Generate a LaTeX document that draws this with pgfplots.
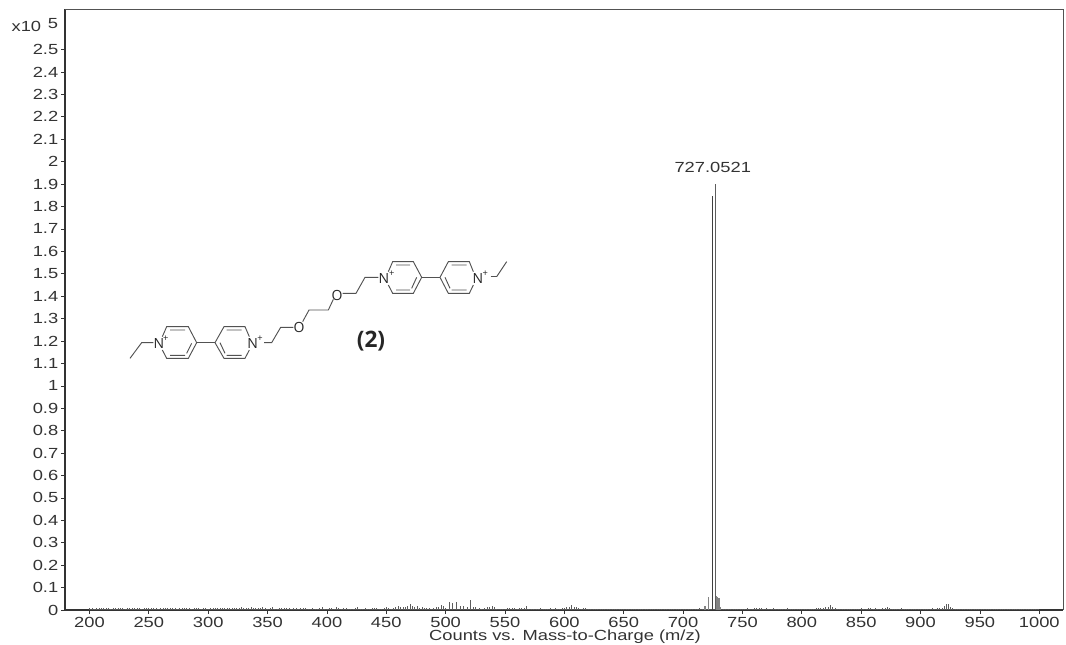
\documentclass[border=0pt]{standalone}
\usepackage{pgfplots}
\pgfplotsset{compat=1.18}
\usepackage{fontspec}
\setmainfont[FakeStretch=1.25]{Liberation Sans}
\newfontfamily\molfont{Open Sans}
\definecolor{ink}{HTML}{333333}
\definecolor{trace}{HTML}{404040}
\begin{document}
\begin{tikzpicture}
\useasboundingbox (0,0) rectangle (799.5pt,483pt);
\begin{axis}[
  at={(48.75pt,25.5pt)}, anchor=south west, scale only axis,
  width=748.5pt, height=450.75pt,
  xmin=179.4, xmax=1020, ymin=0, ymax=2.681,
  xtick={200,250,...,1000},
  ytick={0,0.1,...,2.5},
  axis x line*=bottom, axis y line*=left,
  tick align=outside, tick pos=left,
  major tick length=3pt,
  axis line style={ink, line width=0.8pt},
  tick style={ink, line width=0.5pt},
  tick label style={font=\fontsize{11}{12}\selectfont, text=ink},
  /pgf/number format/assume math mode=true,
  /pgf/number format/fixed, /pgf/number format/precision=1,
  /pgf/number format/1000 sep={},
  xticklabel style={inner ysep=0pt, yshift=-2.1pt},
  yticklabel style={xshift=1.5pt},
  xlabel={Counts vs. Mass-to-Charge (m/z)},
  xlabel style={at={(rel axis cs:0.501,0)}, anchor=center, inner ysep=0pt, yshift=-20.4pt, font=\fontsize{11}{12}\selectfont, text=ink},
  clip=false,
]
% baseline
\addplot[trace!90, line width=0.9pt] coordinates {(200,0.004)(1000,0.004)};
% low-level noise
\addplot[ycomb, trace!85, line width=0.5pt, no markers] coordinates {
(200,.007)(202,.009)(204,.006)(206,.009)(208,.008)(210,.010)(212,.007)(214,.009)(216,.008)(218,.006)(220,.009)(222,.010)(224,.007)(226,.009)(228,.008)(230,.006)(232,.009)(234,.008)(236,.010)(238,.007)(240,.009)(242,.008)(244,.006)(246,.010)(248,.009)(250,.007)(252,.008)(254,.010)(256,.009)(258,.006)(260,.009)(262,.008)(264,.010)(266,.007)(268,.009)(270,.008)(272,.009)(274,.006)(276,.008)(278,.010)(280,.007)(282,.009)(284,.008)(286,.006)(288,.009)(290,.010)(292,.008)(294,.005)(296,.007)(298,.009)(300,.006)(302,.010)(304,.011)(306,.009)(308,.010)(310,.011)(312,.008)(314,.010)(316,.009)(318,.011)(320,.010)(322,.008)(324,.011)(326,.009)(328,.012)(330,.010)(332,.011)(334,.009)(336,.012)(338,.008)(340,.010)(342,.007)(344,.011)(346,.013)(348,.009)(350,.006)(352,.010)(354,.012)(356,.005)(358,.004)(360,.010)(362,.009)(364,.011)(366,.008)(368,.010)(370,.006)(372,.009)(374,.010)(376,.005)(378,.008)(380,.007)(382,.010)(384,.006)(386,.005)(388,.008)(390,.006)(392,.004)(394,.009)(396,.012)(398,.005)(400,.004)(402,.007)(404,.010)(406,.006)(408,.012)(410,.008)(412,.005)(414,.009)(416,.007)(418,.005)(420,.006)(422,.004)(424,.008)(426,.012)(428,.006)(430,.005)(432,.009)(434,.006)(436,.004)(438,.007)(440,.009)(442,.010)(444,.006)(446,.004)(448,.009)(450,.012)(452,.008)(454,.005)
(456,.008)(458,.012)(460,.017)(462,.014)(464,.012)(466,.013)(468,.016)(470,.026)(472,.018)(474,.012)(476,.016)(478,.010)(480,.012)(482,.008)(484,.010)(486,.009)(488,.006)(490,.010)(492,.012)(494,.015)(496,.024)(498,.018)(500,.010)(503,.036)(506,.032)(509,.034)(512,.018)(515,.016)(518,.014)(521,.044)(523,.014)(525,.012)(528,.008)(530,.006)(533,.010)(535,.012)(537,.014)(539,.016)(541,.012)(543,.006)(546,.005)(548,.006)(550,.005)(552,.009)(554,.011)(556,.008)(558,.007)(560,.006)(562,.008)(564,.009)(566,.008)(568,.017)(570,.006)(572,.005)(574,.004)(576,.006)(578,.005)(580,.007)(582,.005)(584,.004)(586,.005)(588,.008)(590,.006)(592,.007)(594,.005)(596,.004)(598,.007)(600,.010)(602,.012)(604,.014)(606,.021)(608,.012)(610,.013)(612,.007)(614,.006)(616,.010)(618,.011)(620,.005)(622,.004)(624,.006)(626,.005)(628,.004)(630,.006)(632,.003)(634,.005)(636,.004)(638,.006)(640,.004)(642,.005)(644,.003)(646,.005)(648,.004)(650,.006)(652,.003)(654,.005)(656,.004)(658,.003)(660,.005)(662,.004)(664,.006)(666,.003)(668,.004)(670,.005)(672,.004)(674,.003)(676,.006)(678,.004)(680,.003)(682,.005)(684,.004)(686,.006)(688,.003)(690,.005)(692,.004)(694,.006)(696,.003)(698,.005)(700,.004)(702,.006)(704,.005)(706,.004)(708,.005)(710,.006)(712,.005)(714,.007)(716,.006)
(734,.006)(736,.004)(738,.005)(740,.004)(742,.006)(744,.005)(746,.004)(748,.006)(750,.005)(752,.004)(754,.007)(756,.006)(758,.005)(760,.008)(762,.009)(764,.007)(766,.008)(768,.006)(770,.007)(772,.005)(774,.006)(776,.008)(778,.005)(780,.006)(782,.005)(784,.004)(786,.005)(788,.007)(790,.006)(792,.004)(794,.005)(796,.006)(798,.004)(800,.005)(802,.006)(804,.004)(806,.005)(808,.006)(810,.005)(812,.007)(814,.009)(816,.011)(818,.010)(820,.012)(822,.013)(824,.021)(826,.014)(828,.008)(830,.006)(832,.005)(834,.004)(836,.006)(838,.005)(840,.003)(842,.004)(844,.005)(846,.004)(848,.006)(850,.008)(852,.006)(854,.005)(856,.007)(858,.008)(860,.006)(862,.007)(864,.005)(866,.006)(868,.008)(870,.009)(872,.013)(874,.010)(876,.006)(878,.005)(880,.006)(882,.005)(884,.007)(886,.006)(888,.005)(890,.004)(892,.003)(894,.005)(896,.004)(898,.003)(900,.004)(902,.005)(904,.004)(906,.006)(908,.005)(910,.007)(912,.006)(914,.008)(916,.007)(918,.010)(920,.016)(922,.026)(923,.028)(925,.014)(927,.008)(929,.006)(931,.005)(933,.006)(935,.004)(937,.005)(939,.006)(941,.004)(943,.005)(945,.006)(947,.004)(949,.005)(951,.003)(953,.005)(955,.004)(957,.006)(959,.004)(961,.005)(963,.003)(965,.005)(967,.004)(969,.006)(971,.004)(973,.005)(975,.003)(977,.004)(979,.005)(981,.003)(983,.004)(985,.003)(987,.005)(989,.003)(991,.004)(993,.003)(995,.004)(997,.003)(999,.004)
};
% cluster satellites
\addplot[ycomb, trace!65, line width=0.9pt, no markers] coordinates {
(718.5,.016)(721.7,.056)(728.3,.062)(729.3,.056)(730.2,.052)(731.6,.012)};
% main peaks
\addplot[ycomb, trace, line width=0.7pt, no markers] coordinates {(724.8,1.848)};
\addplot[ycomb, trace!85, line width=0.45pt, no markers] coordinates {(727.3,1.90)};
\node[font=\fontsize{11}{12}\selectfont, text=ink] at (axis cs:725.0,1.975) {727.0521};
\end{axis}
% top and right frame
\draw[ink!85, line width=0.6pt] (48.75pt,476.25pt) -- (797.25pt,476.25pt) -- (797.25pt,25.5pt);
% exponent
\node[anchor=base west, inner sep=0pt, font=\fontsize{11}{12}\selectfont, text=ink] at (8.5pt,459.5pt) {x10\hspace{5pt}\raisebox{2pt}{5}};
% structural formula, coordinates in crop units
\begin{scope}[x=0.25pt, y=-0.25pt, xshift=90pt, yshift=303pt, line width=0.7pt, draw=ink!85, text=black!85]
\draw (30,355)--(65,308)--(100,308);
\draw (127,290)--(140,260)--(205,260)--(230,308)--(205,355)--(140,355)--(127,330);
\draw (150,270)--(195,270) (150,346)--(195,346) (215,310)--(200,340);
\draw (230,308)--(285,308);
\draw (388,290)--(375,260)--(312,260)--(285,308)--(312,355)--(375,355)--(388,330);
\draw (320,270)--(365,270) (320,346)--(365,346) (300,308)--(315,340);
\draw (432,308)--(455,308)--(482,262)--(520,262);
\draw (548,245)--(567,210)--(625,210)--(640,178);
\draw (668,160)--(708,160)--(735,112)--(775,112);
\draw (805,95)--(818,65)--(880,65)--(905,112)--(880,160)--(818,160)--(805,135);
\draw (828,75)--(870,75) (828,150)--(870,150) (890,112)--(875,145);
\draw (905,112)--(960,112);
\draw (1060,95)--(1048,65)--(985,65)--(960,112)--(985,160)--(1048,160)--(1060,135);
\draw (995,75)--(1040,75) (995,150)--(1040,150) (975,112)--(990,145);
\draw (1130,110)--(1160,65);
\draw (1112,110)--(1130,110);
\begin{scope}[font=\molfont\fontsize{10.5}{11}\selectfont]
\node[inner sep=0pt] at (117,310) {N};
\node[inner sep=0pt] at (398,310) {N};
\node[inner sep=0pt] at (792,115) {N};
\node[inner sep=0pt] at (1074,115) {N};
\node[inner sep=0pt] at (537,262) {O};
\node[inner sep=0pt] at (651,165) {O};
\node[inner sep=0pt, font=\molfont\fontsize{7}{8}\selectfont] at (137,295) {+};
\node[inner sep=0pt, font=\molfont\fontsize{7}{8}\selectfont] at (420,295) {+};
\node[inner sep=0pt, font=\molfont\fontsize{7}{8}\selectfont] at (815,100) {+};
\node[inner sep=0pt, font=\molfont\fontsize{7}{8}\selectfont] at (1096,102) {+};
\end{scope}
\node[inner sep=0pt, font=\molfont\bfseries\fontsize{17}{18}\selectfont, text=black!85] at (753,303) {(2)};
\end{scope}
\end{tikzpicture}
\end{document}
